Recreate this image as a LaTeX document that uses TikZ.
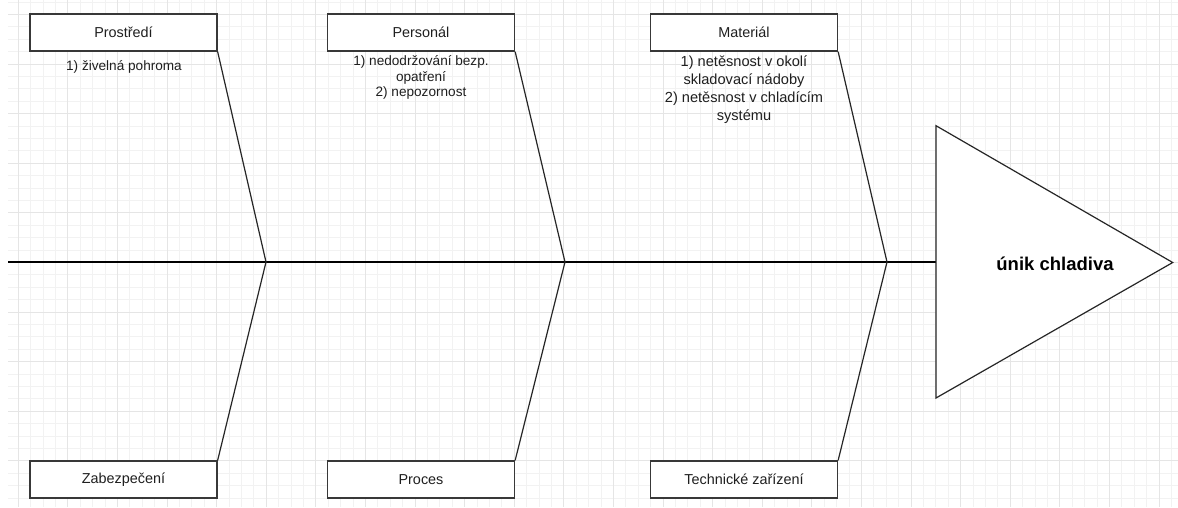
\documentclass[tikz,border=0pt]{standalone}
\usepackage{fontspec}
\setmainfont{Liberation Sans}
\begin{document}
\begin{tikzpicture}[x=1pt,y=-1pt,
  gridminor/.style={draw=black!5,line width=0.9pt},
  gridmajor/.style={draw=black!10,line width=0.9pt},
  catbox/.style={draw=black!78,line width=1.3pt,fill=white,minimum width=187pt,
    minimum height=37pt,inner sep=0pt,text=black!88,font=\fontsize{14.4}{17}\selectfont},
  note/.style={align=center,inner sep=0pt,text=black!88,font=\fontsize{13.6}{15.6}\selectfont},
  notebig/.style={align=center,inner sep=0pt,text=black!88,font=\fontsize{14.6}{17.9}\selectfont},
  rib/.style={draw=black!85,line width=1.2pt},
  spine/.style={draw=black,line width=1.2pt},
  head/.style={draw=black!85,line width=1.2pt,fill=white}]
\useasboundingbox (0,0) rectangle (1178,507);
% background grid
\fill[white] (0,0) rectangle (1178,507);
\foreach \k in {0,...,93}{\draw[gridminor] ({18.3+\k*12.4},0) -- ({18.3+\k*12.4},507);}
\foreach \k in {-1,...,39}{\draw[gridminor] (8,{14.4+\k*12.4}) -- (1178,{14.4+\k*12.4});}
\foreach \k in {0,...,23}{\draw[gridmajor] ({18.3+\k*49.6},0) -- ({18.3+\k*49.6},507);}
\foreach \k in {0,...,9}{\draw[gridmajor] (8,{14.4+\k*49.6}) -- (1178,{14.4+\k*49.6});}

% spine and joints
\coordinate (start) at (8,262);
\coordinate (j1) at (266,262);
\coordinate (j2) at (565,262);
\coordinate (j3) at (887,262);
\coordinate (headleft) at (936,262);
\draw[spine] (start) -- (headleft);

% head of the fish
\draw[head] (936,125.7) -- (1172.7,262.5) -- (936,398) -- cycle;
\node[font=\bfseries\fontsize{18.5}{22}\selectfont,text=black] (effect) at (1055,264) {únik chladiva};

% category boxes
\node[catbox] (prostredi) at (123.5,32.5) {Prostředí};
\node[catbox] (personal) at (421,32.5) {Personál};
\node[catbox] (material) at (744,32.5) {Materiál};
\node[catbox] (zabezpeceni) at (123.5,479.5) {Zabezpečení};
\node[catbox] (proces) at (421,479.5) {Proces};
\node[catbox] (technicke) at (744,479.5) {Technické zařízení};

% ribs
\draw[rib] (prostredi.south east) -- (j1);
\draw[rib] (zabezpeceni.north east) -- (j1);
\draw[rib] (personal.south east) -- (j2);
\draw[rib] (proces.north east) -- (j2);
\draw[rib] (material.south east) -- (j3);
\draw[rib] (technicke.north east) -- (j3);

% causes
\node[note] (n1) at (124,66.5) {1) živelná pohroma};
\node[note] (n2) at (421,77.5) {1) nedodržování bezp.\\opatření\\2) nepozornost};
\node[notebig] (n3) at (744,89.5) {1) netěsnost v okolí\\skladovací nádoby\\2) netěsnost v chladícím\\systému};
\end{tikzpicture}
\end{document}
